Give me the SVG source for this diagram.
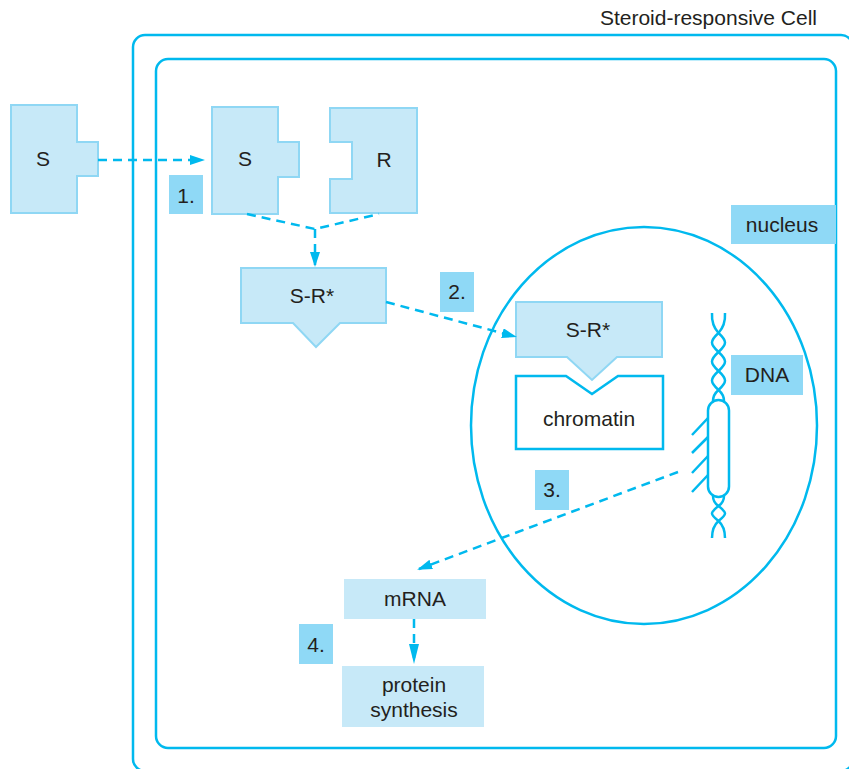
<svg xmlns="http://www.w3.org/2000/svg" width="849" height="769" viewBox="0 0 849 769">
  <style>
    .membrane { fill: none; stroke: #00b9ee; stroke-width: 2.5; }
    .shape { fill: #c7e9f8; stroke: #8fd7f4; stroke-width: 2; }
    .plain { fill: #c7e9f8; stroke: none; }
    .tag { fill: #8fd9f6; stroke: none; }
    .outline { fill: #ffffff; stroke: #00b9ee; stroke-width: 2.5; }
    .dna { fill: none; stroke: #00b9ee; stroke-width: 2.5; }
    .flow { fill: none; stroke: #00b9ee; stroke-width: 2.5; stroke-dasharray: 9 6; }
    text { font-family: "Liberation Sans", Arial, sans-serif; font-size: 21px; fill: #231f20; text-anchor: middle; }
    .title { text-anchor: end; }
  </style>
  <defs>
    <marker id="head" markerUnits="userSpaceOnUse" markerWidth="16" markerHeight="12" refX="13" refY="5" orient="auto">
      <path d="M0,0 L15,5 L0,10 Z" fill="#00b9ee"/>
    </marker>
    <marker id="headLong" markerUnits="userSpaceOnUse" markerWidth="22" markerHeight="12" refX="18" refY="5" orient="auto">
      <path d="M0,0 L20,5 L0,10 Z" fill="#00b9ee"/>
    </marker>
  </defs>

  <rect width="849" height="769" fill="#ffffff"/>

  <!-- cell: outer and inner membrane -->
  <g id="cell">
    <rect class="membrane" x="133" y="35" width="720" height="736" rx="12"/>
    <rect class="membrane" x="156" y="59" width="680" height="689" rx="12"/>
    <text class="title" x="817" y="25">Steroid-responsive Cell</text>
  </g>

  <!-- nucleus envelope -->
  <g id="nucleus">
    <ellipse class="membrane" cx="644" cy="425.5" rx="173" ry="198.5"/>
    <rect class="tag" x="731" y="205" width="105" height="39"/>
    <text x="782" y="232">nucleus</text>
  </g>

  <!-- steroid outside the cell -->
  <g id="steroid-outside">
    <path class="shape" d="M11,105 H77 V142 H98 V176 H77 V213 H11 Z"/>
    <text x="43" y="166">S</text>
  </g>

  <!-- steroid inside the cell -->
  <g id="steroid-inside">
    <path class="shape" d="M212,107 H278 V142 H299 V177 H278 V214 H212 Z"/>
    <text x="245" y="166">S</text>
  </g>

  <!-- receptor -->
  <g id="receptor">
    <path class="shape" d="M330,108 H417 V213 H330 V179 H352 V142 H330 Z"/>
    <text x="384" y="167">R</text>
  </g>

  <!-- activated complex in cytoplasm -->
  <g id="complex-cytoplasm">
    <path class="shape" d="M241,268 H386 V323 H340 L316,347 L293,323 H241 Z"/>
    <text x="312" y="303">S-R*</text>
  </g>

  <!-- activated complex bound to chromatin -->
  <g id="complex-nucleus">
    <path class="shape" d="M516,302 H662 V357 H617 L592,380 L567,357 H516 Z"/>
    <text x="588" y="337">S-R*</text>
  </g>

  <g id="chromatin">
    <path class="outline" d="M516,376 H566 L592,394 L618,376 H663 V449 H516 Z"/>
    <text x="589" y="426">chromatin</text>
  </g>

  <!-- DNA double helix with the open (transcribed) region -->
  <g id="dna">
    <path class="dna" d="M712,313 C711.5,322 714,328 718.5,333 C727.2,341 727.2,344 718.5,352 C709.8,360 709.8,363 718.5,371 C727.2,379 727.2,382 718.5,390 C715,393 713,396 713,401"/>
    <path class="dna" d="M725,313 C725.5,322 723,328 718.5,333 C709.8,341 709.8,344 718.5,352 C727.2,360 727.2,363 718.5,371 C709.8,379 709.8,382 718.5,390 C722,393 724,396 724,401"/>
    <rect class="outline" x="708" y="400" width="21" height="97" rx="10.5"/>
    <path class="dna" d="M713,496 C713,500 714,503 718.5,506 C727.2,513 727.2,514 718.5,521 C714,525 712,530 712,538"/>
    <path class="dna" d="M724,496 C724,500 723,503 718.5,506 C709.8,513 709.8,514 718.5,521 C723,525 725,530 725,538"/>
    <path class="dna" d="M708,418 L692,435 M708,437 L692,453 M708,456 L692,473 M708,475 L692,492"/>
    <rect class="tag" x="731" y="355" width="72" height="40"/>
    <text x="767" y="382">DNA</text>
  </g>

  <g id="mrna">
    <rect class="plain" x="344" y="579" width="142" height="40"/>
    <text x="415" y="606">mRNA</text>
  </g>

  <g id="protein-synthesis">
    <rect class="plain" x="342" y="666" width="142" height="61"/>
    <text x="414" y="692">protein</text>
    <text x="414" y="717">synthesis</text>
  </g>

  <!-- step numbers -->
  <g id="step-1">
    <rect class="tag" x="169" y="175" width="34" height="39"/>
    <text x="186" y="203">1.</text>
  </g>
  <g id="step-2">
    <rect class="tag" x="440" y="272" width="34" height="40"/>
    <text x="457" y="299">2.</text>
  </g>
  <g id="step-3">
    <rect class="tag" x="535" y="470" width="34" height="40"/>
    <text x="552" y="497">3.</text>
  </g>
  <g id="step-4">
    <rect class="tag" x="299" y="624" width="34" height="40"/>
    <text x="316" y="652">4.</text>
  </g>

  <!-- connectors -->
  <g id="connectors">
    <path class="flow" d="M98,160 H203" marker-end="url(#head)"/>
    <path class="flow" d="M247,214 L315,229 L379,214"/>
    <path class="flow" d="M315,229 V265" marker-end="url(#head)"/>
    <path class="flow" d="M386,302 L515,336.5" marker-end="url(#head)"/>
    <path class="flow" d="M678,472 L419,569" marker-end="url(#head)"/>
    <path class="flow" d="M414,619 V662" stroke-dasharray="8 4" marker-end="url(#headLong)"/>
  </g>
</svg>
